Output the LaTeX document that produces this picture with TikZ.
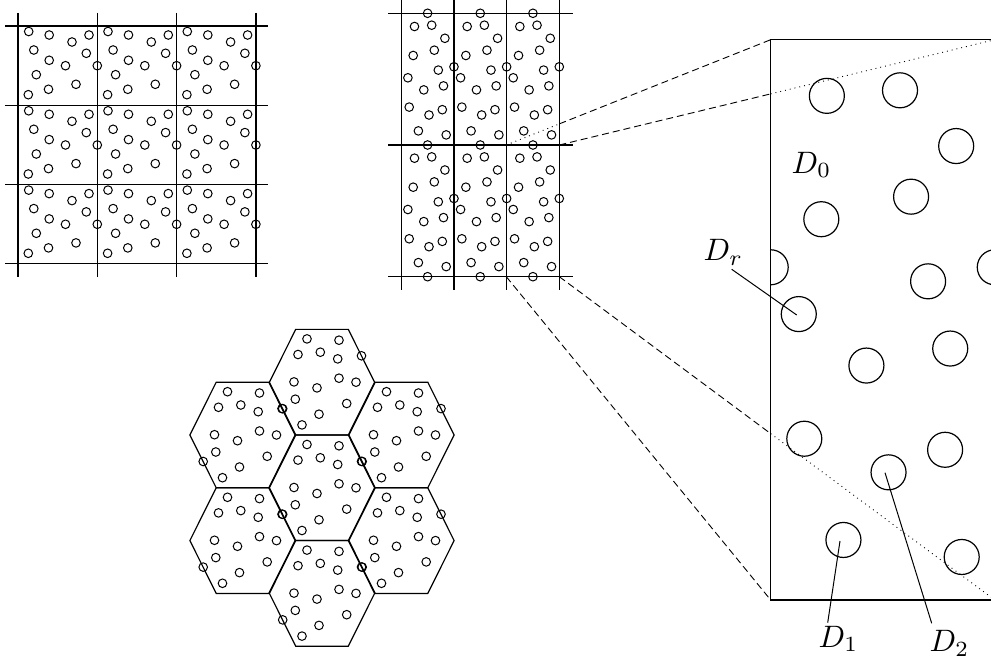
\documentclass[tikz,border=0pt]{standalone}
\begin{document}
\begin{tikzpicture}[x=0.5pt,y=-0.5pt,
  gridline/.style={line width=0.6pt},
  hexline/.style={line width=0.6pt},
  hole/.style={line width=0.5pt},
  bighole/.style={line width=0.6pt},
  boxline/.style={line width=0.6pt},
  dashconn/.style={line width=0.45pt, dash pattern=on 3.5pt off 2pt},
  dotconn/.style={line width=0.45pt, dash pattern=on 0.45pt off 2pt},
  leader/.style={line width=0.5pt},
  lbl/.style={inner sep=0pt, scale=1.55}]
\useasboundingbox (0,0) rectangle (991,662);
\clip (0,0) rectangle (991,662);
\def\sqpts{10.7/5.5, 31.2/9, 54/16, 71/9, 15.8/24, 68.3/27.3, 31.2/34.3, 47.5/39.7, 79.3/39.7, 18.3/48.7, 58/58.3, 30.5/63.3, 10.3/68.7}
\def\rcpts{13.2/13.2, 30.4/11.9, 43.6/25, 11.9/42.2, 33/36.9, 37/56.8, 52.67/53.5, 6.6/64.5, 22.5/76.6, 42.2/72.6, 7.9/93.8, 27.7/101.7, 41/96.4, 17.1/117.6, 44.9/121.6}
\def\hxpts{-15/-43.3, 17/-42, -24/-27.7, -1.7/-30, 15.7/-23.3, 39.5/-26.4, -28/-0.3, -5/5.7, 17/-4, 34/0, -26.7/17, 24.7/21.3, -3/32, -20/42.7, -39.3/26.5}
% ---------- square grid ----------
\foreach \k in {0,1,2,3} {
  \draw[gridline] (18+79.3*\k,13) -- (18+79.3*\k,277);
  \draw[gridline] (5,26+79.3*\k) -- (268,26+79.3*\k);
}
\foreach \i in {0,1,2} \foreach \j in {0,1,2} {
  \begin{scope}[shift={(18+79.3*\i,26+79.3*\j)}]
    \foreach \a/\b in \sqpts \draw[hole] (\a,\b) circle[radius=2.15pt];
  \end{scope}
}
% ---------- rectangular grid ----------
\foreach \k in {0,1,2,3} \draw[gridline] (401.3+52.67*\k,0) -- (401.3+52.67*\k,290);
\foreach \k in {0,1,2} \draw[gridline] (388,13.3+131.7*\k) -- (573,13.3+131.7*\k);
\foreach \i in {0,1,2} {
  \foreach \j in {0,1} {
    \begin{scope}[shift={(401.3+52.67*\i,13.3+131.7*\j)}]
      \foreach \a/\b in \rcpts \draw[hole] (\a,\b) circle[radius=2.15pt];
    \end{scope}
  }
  \foreach \k in {0,1,2} \draw[hole] (401.3+52.67*\i+26.3,13.3+131.7*\k) circle[radius=2.15pt];
}
% ---------- magnified box ----------
\coordinate (BTL) at (770.7,39.7);
\coordinate (BBL) at (770.7,600);
\coordinate (BTR) at (994.8,39.7);
\coordinate (BBR) at (994.8,600);
\draw[boxline] (BTR) -- (BTL) -- (BBL) -- (BBR);
\begin{scope}
  \clip (BTL) rectangle (BBR);
  \foreach \a/\b in \rcpts \draw[bighole] (770.7+4.254*\a,39.7+4.254*\b) circle[radius=8.75pt];
  \draw[bighole] (770.7,39.7+4.254*53.5) circle[radius=8.75pt];
\end{scope}
% ---------- connectors ----------
\coordinate (G1) at (506.3,145);
\coordinate (G2) at (559.3,145);
\coordinate (G3) at (506.3,276.7);
\coordinate (G4) at (559.3,276.7);
\path (G1) -- (BTL) coordinate[pos=0.2005] (M1);
\path (G2) -- (BTR) coordinate[pos=0.4854] (M2);
\path (G4) -- (BBR) coordinate[pos=0.4854] (M4);
\draw[dotconn] (G1) -- (M1);
\draw[dashconn] (M1) -- (BTL);
\draw[dashconn] (G2) -- (M2);
\draw[dotconn] (M2) -- (BTR);
\draw[dashconn] (G3) -- (BBL);
\draw[dashconn] (G4) -- (M4);
\draw[dotconn] (M4) -- (BBR);
% ---------- labels ----------
\node[lbl, anchor=base west] (D0) at (791,173.3) {$D_0$};
\node[lbl, anchor=base west] (Dr) at (703,260.7) {$D_r$};
\node[lbl, anchor=base west] (D1) at (818,647.3) {$D_1$};
\node[lbl, anchor=base west] (D2) at (929,651.7) {$D_2$};
\coordinate (DrT) at (731.7,269.3);
\coordinate (DrC) at (796.7,315);
\coordinate (D1T) at (827.7,622.7);
\coordinate (D1C) at (840,541);
\coordinate (D2T) at (931.7,623.3);
\coordinate (D2C) at (885,472.7);
\draw[leader] (DrT) -- (DrC);
\draw[leader] (D1T) -- (D1C);
\draw[leader] (D2T) -- (D2C);
% ---------- hexagons ----------
\foreach \cx/\cy in {322/487.8, 322/382.2, 322/593.4, 242.5/435, 242.5/540.6, 401.5/435, 401.5/540.6} {
  \begin{scope}[shift={(\cx,\cy)}]
    \draw[hexline] (-26.3,-52.8) -- (26.3,-52.8) -- (52.6,0) -- (26.3,52.8) -- (-26.3,52.8) -- (-52.6,0) -- cycle;
    \foreach \a/\b in \hxpts \draw[hole] (\a,\b) circle[radius=2.15pt];
  \end{scope}
}
\end{tikzpicture}
\end{document}
